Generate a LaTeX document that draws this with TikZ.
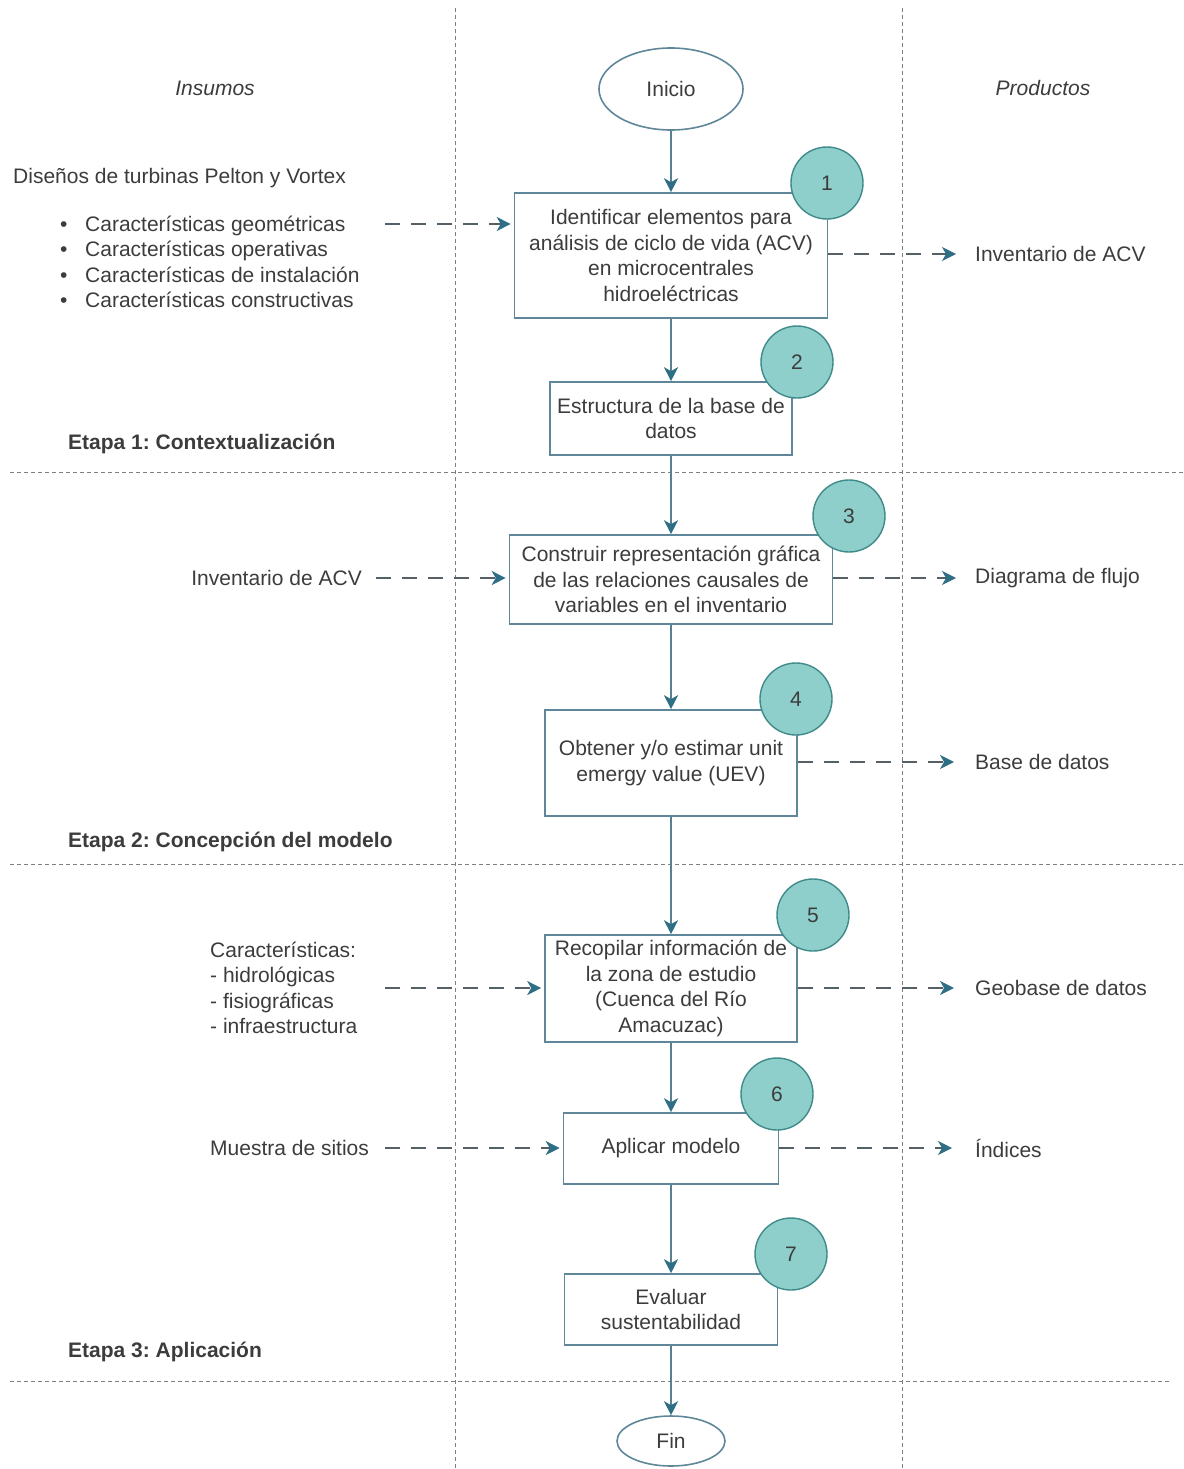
\documentclass[tikz,border=0pt]{standalone}
\usepackage{fontspec}
\setmainfont{Liberation Sans}
\usetikzlibrary{arrows.meta,shapes.geometric}
\definecolor{txt}{HTML}{3C3C3C}
\definecolor{boxline}{HTML}{5F8799}
\definecolor{flowc}{HTML}{5A7F90}
\definecolor{tipc}{HTML}{2F6F86}
\definecolor{dashc}{HTML}{555F66}
\definecolor{badgefill}{HTML}{8ECFCB}
\definecolor{badgeline}{HTML}{3F8A8A}
\definecolor{sepc}{HTML}{7F7F7F}
\frenchspacing
\tikzset{
  base/.style={font=\fontsize{21}{25.5}\selectfont, text=txt},
  stepbox/.style={base, draw=boxline, line width=1.6pt, fill=white, align=center, inner sep=0pt},
  terminal/.style={base, ellipse, draw=boxline, line width=1.6pt, inner sep=0pt},
  badge/.style={base, circle, draw=badgeline, line width=1.4pt, fill=badgefill, minimum size=72pt, inner sep=0pt},
  label/.style={base, inner sep=0pt, align=left},
  stage/.style={base, font=\fontsize{21}{25.5}\selectfont\bfseries, inner sep=0pt, anchor=west},
  flow/.style={draw=flowc, line width=1.8pt, -{Stealth[length=14pt,width=14pt,inset=4pt,color=tipc]}},
  dflow/.style={draw=dashc, line width=1.5pt, dash pattern=on 15pt off 11pt, -{Stealth[length=14pt,width=14pt,inset=4pt,color=tipc,sep=3pt]}},
  sep/.style={draw=sepc, line width=1pt, dash pattern=on 4pt off 3pt},
}
\begin{document}
\begin{tikzpicture}[x=1pt,y=-1pt]
\useasboundingbox (0,0) rectangle (1183,1469);

% column and stage separators
\draw[sep] (455,8) -- (455,1469);
\draw[sep] (902,8) -- (902,1469);
\draw[sep] (10,472) -- (1183,472);
\draw[sep] (10,864) -- (1183,864);
\draw[sep] (10,1381) -- (1170,1381);

% column headings
\node[base, font=\fontsize{21}{25.5}\selectfont\itshape] (hin) at (215,88) {Insumos};
\node[base, font=\fontsize{21}{25.5}\selectfont\itshape] (hout) at (1043,88) {Productos};

% main sequence
\node[terminal, minimum width=144pt, minimum height=82pt] (inicio) at (671,89) {Inicio};
\node[stepbox, minimum width=313pt, minimum height=125pt] (b1) at (671,255.5)
  {Identificar elementos para\\análisis de ciclo de vida (ACV)\\en microcentrales\\hidroeléctricas};
\node[stepbox, minimum width=242pt, minimum height=73pt] (b2) at (671,418.5)
  {Estructura de la base de\\datos};
\node[stepbox, minimum width=323pt, minimum height=89pt] (b3) at (671,579.5)
  {Construir representación gráfica\\de las relaciones causales de\\variables en el inventario};
\node[stepbox, minimum width=252pt, minimum height=106pt] (b4) at (671,763)
  {Obtener y/o estimar unit\\emergy value (UEV)};
\node[stepbox, minimum width=252pt, minimum height=107pt] (b5) at (671,988.5)
  {Recopilar información de\\la zona de estudio\\(Cuenca del Río\\Amacuzac)};
\node[stepbox, minimum width=215pt, minimum height=71pt] (b6) at (671,1148.5)
  {Aplicar modelo};
\node[stepbox, minimum width=213pt, minimum height=71pt] (b7) at (671,1309.5)
  {Evaluar\\sustentabilidad};
\node[terminal, minimum width=108pt, minimum height=50pt] (fin) at (671,1441) {Fin};

% step numbers
\node[badge] (n1) at (827,183) {1};
\node[badge] (n2) at (797,362) {2};
\node[badge] (n3) at (849,516) {3};
\node[badge] (n4) at (796,699) {4};
\node[badge] (n5) at (813,915) {5};
\node[badge] (n6) at (777,1094) {6};
\node[badge] (n7) at (791,1254) {7};

% main flow
\draw[flow] (inicio) -- (b1);
\draw[flow] (b1) -- (b2);
\draw[flow] (b2) -- (b3);
\draw[flow] (b3) -- (b4);
\draw[flow] (b4) -- (b5);
\draw[flow] (b5) -- (b6);
\draw[flow] (b6) -- (b7);
\draw[flow] (b7) -- (fin);

% inputs
\node[label, anchor=west] (in1t) at (13,178) {Diseños de turbinas Pelton y Vortex};
\node[label, anchor=west] (in1) at (60,262)
  {\makebox[25pt][l]{•}Características geométricas\\
   \makebox[25pt][l]{•}Características operativas\\
   \makebox[25pt][l]{•}Características de instalación\\
   \makebox[25pt][l]{•}Características constructivas};
\node[label, anchor=east] (in3) at (362,578) {Inventario de ACV};
\node[label, anchor=west] (in5) at (210,988)
  {Características:\\- hidrológicas\\- fisiográficas\\- infraestructura};
\node[label, anchor=west] (in6) at (210,1148) {Muestra de sitios};

\coordinate (s1) at (385,224);
\coordinate (s3) at (376,578);
\coordinate (s5) at (385,988);
\coordinate (s6) at (385,1148);
\draw[dflow] (s1) -- (b1.west |- s1);
\draw[dflow] (s3) -- (b3.west |- s3);
\draw[dflow] (s5) -- (b5.west |- s5);
\draw[dflow] (s6) -- (b6.west |- s6);

% outputs
\node[label, anchor=west] (o1) at (975,254) {Inventario de ACV};
\node[label, anchor=west] (o3) at (975,578) {Diagrama de flujo};
\node[label, anchor=west] (o4) at (975,762) {Base de datos};
\node[label, anchor=west] (o5) at (975,988) {Geobase de datos};
\node[label, anchor=west] (o6) at (975,1148) {Índices};

\draw[dflow] (b1.east |- o1) -- ([xshift=-16pt]o1.west);
\draw[dflow] (b3.east |- o3) -- ([xshift=-16pt]o3.west);
\draw[dflow] (b4.east |- o4) -- ([xshift=-18pt]o4.west);
\draw[dflow] (b5.east |- o5) -- ([xshift=-18pt]o5.west);
\draw[dflow] (b6.east |- o6) -- ([xshift=-20pt]o6.west);

% stage titles
\node[stage] (e1) at (68,444) {Etapa 1: Contextualización};
\node[stage] (e2) at (68,842) {Etapa 2: Concepción del modelo};
\node[stage] (e3) at (68,1352) {Etapa 3: Aplicación};
\end{tikzpicture}
\end{document}
